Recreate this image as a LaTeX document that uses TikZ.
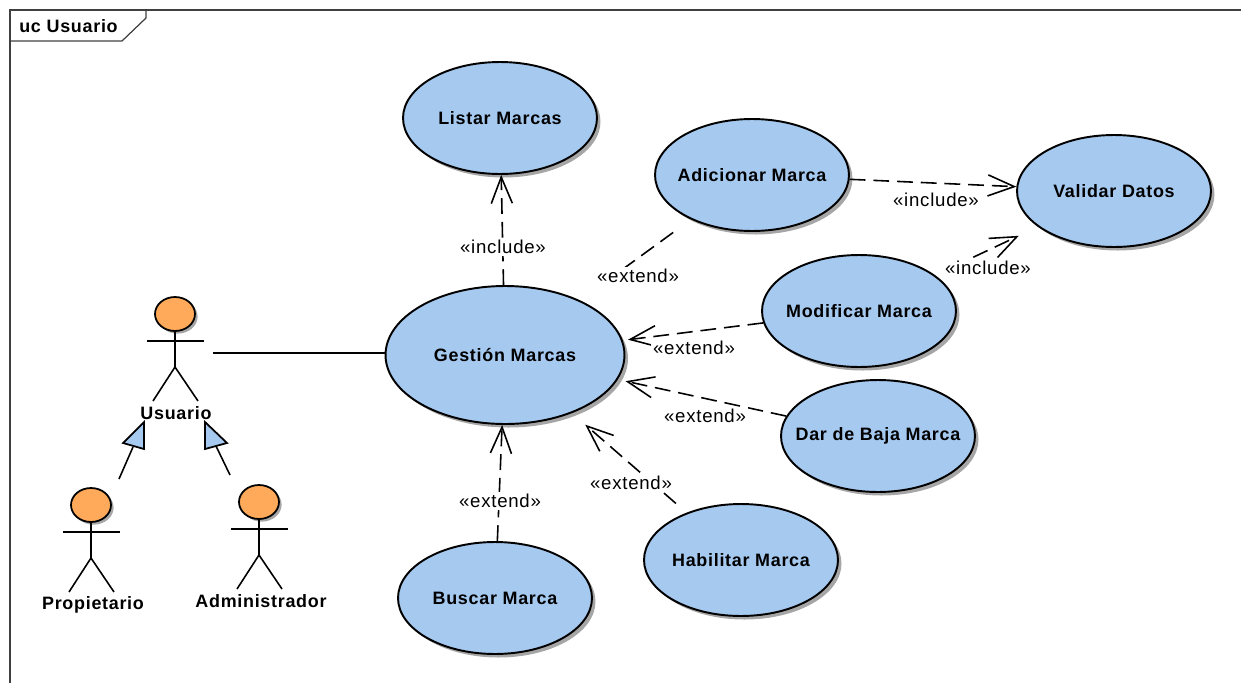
\documentclass[tikz,border=0pt]{standalone}
\usepackage{fontspec}
\setmainfont{Liberation Sans}[LetterSpace=4]
\usepackage{tikz}
\usetikzlibrary{arrows.meta}
\usetikzlibrary{shapes.geometric}
\usetikzlibrary{shadows}
\definecolor{casefill}{RGB}{166,201,240}
\definecolor{headfill}{RGB}{255,170,90}
\newcommand{\casetext}[1]{\makebox[0pt]{\raisebox{-0.6pt}{#1}}}
\tikzset{
  usecase/.style={ellipse, draw=black, line width=1.1pt, fill=casefill, inner sep=0pt,
    minimum width=3.88cm, minimum height=2.24cm, font=\fontsize{10.2}{12}\selectfont\bfseries,
    drop shadow={shadow xshift=2pt, shadow yshift=-2pt, fill=black!35, opacity=1}},
  mainCase/.style={usecase, minimum width=4.78cm, minimum height=2.76cm},
  actorhead/.style={ellipse, draw=black, line width=1pt, fill=headfill, inner sep=0pt,
    minimum width=0.8cm, minimum height=0.68cm,
    drop shadow={shadow xshift=1.5pt, shadow yshift=-1.5pt, fill=black!35, opacity=1}},
  actorname/.style={font=\fontsize{10.2}{12}\selectfont\bfseries, inner sep=0pt},
  stereo/.style={font=\fontsize{10.6}{12}\selectfont, fill=white, inner sep=1pt},
  dep/.style={dashed, dash pattern=on 9pt off 4.5pt, line width=0.9pt,
    -{Straight Barb[length=15pt, width=12pt]}},
  limb/.style={line width=0.9pt},
  genline/.style={line width=0.9pt},
  gentip/.style={draw=black, line width=1pt, fill=casefill, line join=miter}
}
\begin{document}
\begin{tikzpicture}[x=0.02cm, y=-0.02cm]
  \useasboundingbox (0,0) rectangle (1241,683);
  % Frame
  \draw[line width=0.7pt, black!75] (10,683) -- (10,10) -- (1241,10);
  \draw[line width=0.7pt, black!75] (10,41) -- (122,41) -- (146,18) -- (146,10);
  \node[actorname, anchor=west] (frametitle) at (19,26) {uc Usuario};
  % Use cases
  \node[usecase] (listar) at (500,118) {\casetext{Listar Marcas}};
  \node[usecase] (adicionar) at (752,175) {\casetext{Adicionar Marca}};
  \node[usecase] (validar) at (1114,191) {\casetext{Validar Datos}};
  \node[usecase] (modificar) at (859,311) {\casetext{Modificar Marca}};
  \node[mainCase] (gestion) at (505,355) {\casetext{Gestión Marcas}};
  \node[usecase] (baja) at (878,436) {\casetext{Dar de Baja Marca}};
  \node[usecase] (habilitar) at (741,560) {\casetext{Habilitar Marca}};
  \node[usecase] (buscar) at (495,598) {\casetext{Buscar Marca}};
  % Actors
  \foreach \nm/\x/\y in {usuario/175/314, propietario/91/505, administrador/259/502} {
    \node[actorhead] (\nm) at (\x,\y) {};
    \draw[limb] (\nm.south) -- (\x,\y+53) -- (\x-22,\y+87);
    \draw[limb] (\x,\y+53) -- (\x+23,\y+87);
    \draw[limb] (\x-28,\y+27) -- (\x+29,\y+27);
  }
  \node[actorname] (usuariolabel) at (176,413) {Usuario};
  \node[actorname] (propietariolabel) at (93,605) {Propietario};
  \node[actorname] (administradorlabel) at (261,601) {Administrador};
  % Association
  \coordinate (usuarioend) at (213,353);
  \draw[line width=0.9pt] (usuarioend) -- (usuarioend -| gestion.west);
  % Generalizations
  \coordinate (propend) at (119,479);
  \coordinate (propjoin) at (133,447);
  \coordinate (admend) at (230,475);
  \coordinate (admjoin) at (216,446);
  \draw[genline] (propend) -- (propjoin);
  \draw[genline] (admend) -- (admjoin);
  \draw[gentip] (144,422) -- (123,443) -- (144,449) -- cycle;
  \draw[gentip] (205,422) -- (227,443) -- (205,449) -- cycle;
  % Include and extend arrows
  \draw[dep] (gestion) -- (listar);
  \draw[dep] (adicionar) -- (validar);
  \draw[dep, shorten <=24pt, shorten >=12pt] (modificar) -- (validar);
  \draw[dashed, dash pattern=on 9pt off 4.5pt, line width=0.9pt, shorten <=12.5pt, shorten >=15pt] (adicionar) -- (gestion);
  \draw[dep, shorten >=3pt] (modificar) -- (gestion);
  \draw[dep, shorten >=4.5pt] (baja) -- (gestion);
  \draw[dep, shorten <=8pt, shorten >=10pt] (habilitar) -- (gestion);
  \draw[dep] (buscar) -- (gestion);
  % Stereotypes
  \node[stereo] (inclistar) at (503,247) {«include»};
  \node[stereo] (incadicionar) at (936,200) {«include»};
  \node[stereo] (incmodificar) at (988,268) {«include»};
  \node[stereo] (extadicionar) at (638,276) {«extend»};
  \node[stereo] (extmodificar) at (694,348) {«extend»};
  \node[stereo] (extbaja) at (705,416) {«extend»};
  \node[stereo] (exthabilitar) at (631,483) {«extend»};
  \node[stereo] (extbuscar) at (500,501) {«extend»};
\end{tikzpicture}
\end{document}
